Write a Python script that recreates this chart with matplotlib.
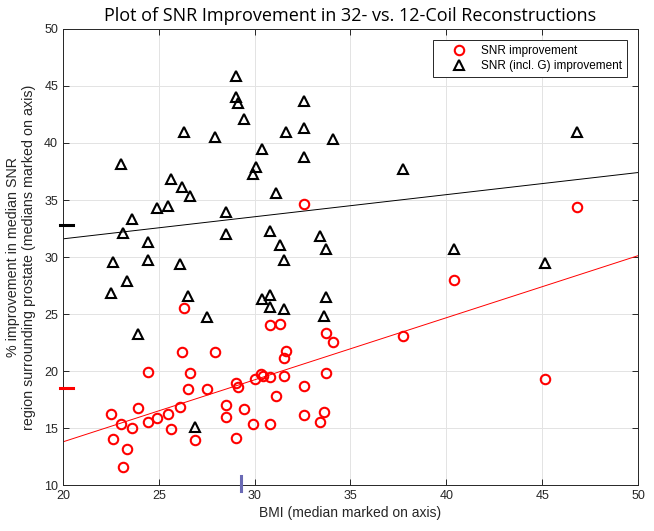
import numpy as np
import matplotlib
matplotlib.use("Agg")
import matplotlib.pyplot as plt

# BMI of each patient and SNR improvement (%) for the two measures
bmi_g = [29.05, 29.05, 29.15, 29.43, 26.30, 27.92, 32.60, 32.60, 31.61, 34.11,
         30.40, 32.60, 23.02, 30.05, 29.91, 25.61, 26.21, 26.61, 31.13, 24.91,
         25.50, 23.61, 28.52, 23.11, 28.52, 30.78, 31.30, 33.42, 33.70, 24.41,
         22.62, 24.41, 26.09, 31.51, 23.32, 22.50, 26.51, 30.40, 30.82, 30.82,
         31.51, 33.70, 33.61, 27.53, 23.91, 26.88, 46.84, 37.76, 40.42, 45.14]
snr_g = [45.90, 44.00, 43.54, 42.08, 40.94, 40.55, 43.71, 41.29, 40.94, 40.32,
         39.45, 38.77, 38.16, 37.89, 37.28, 36.87, 36.17, 35.35, 35.59, 34.27,
         34.47, 33.30, 33.98, 32.08, 31.99, 32.31, 31.05, 31.84, 30.67, 31.32,
         29.56, 29.74, 29.39, 29.74, 27.87, 26.82, 26.55, 26.29, 26.67, 25.59,
         25.47, 26.52, 24.82, 24.74, 23.22, 15.06, 40.99, 37.69, 30.70, 29.44]

bmi = [32.60, 26.30, 30.82, 31.30, 33.70, 34.11, 26.21, 27.92, 31.61, 31.51,
       24.41, 26.61, 30.35, 30.45, 30.02, 30.82, 31.51, 33.70, 29.03, 29.15,
       26.51, 27.53, 32.60, 31.13, 23.94, 26.09, 28.52, 29.43, 22.50, 25.50,
       24.91, 24.41, 23.02, 23.61, 28.52, 29.91, 30.82, 32.60, 33.61, 33.42,
       25.61, 22.60, 26.88, 29.03, 23.32, 23.11, 46.84, 40.42, 37.73, 45.14]
snr = [34.65, 25.53, 24.06, 24.12, 23.33, 22.57, 21.64, 21.69, 21.72, 21.11,
       19.94, 19.85, 19.75, 19.60, 19.30, 19.50, 19.56, 19.85, 18.92, 18.63,
       18.39, 18.42, 18.68, 17.81, 16.75, 16.81, 17.04, 16.69, 16.20, 16.26,
       15.88, 15.56, 15.32, 14.97, 15.99, 15.38, 15.32, 16.11, 16.43, 15.56,
       14.88, 14.04, 13.92, 14.09, 13.18, 11.58, 34.41, 27.96, 23.10, 19.27]

xticks = [20, 25, 30, 35, 40, 45, 50]
yticks = [10, 15, 20, 25, 30, 35, 40, 45, 50]

plt.rcParams["font.family"] = ["Liberation Sans", "DejaVu Sans"]
axcol = "#262626"

fig = plt.figure(figsize=(6.54, 5.31), dpi=100)
ax = fig.add_axes([0.0963, 0.0866, 0.8792, 0.8588])

ax.plot(bmi, snr, "o", ls="none", mfc="none", mec="red", mew=1.5, ms=6.8,
        label="SNR improvement", zorder=3)
ax.plot(bmi_g, snr_g, "^", ls="none", mfc="none", mec="black", mew=1.5, ms=7.2,
        label="SNR (incl. G) improvement", zorder=3)

# least squares fits
xx = np.array([20, 50])
p1 = np.polyfit(bmi, snr, 1)
p2 = np.polyfit(bmi_g, snr_g, 1)
ax.plot(xx, np.polyval(p1, xx), color="red", lw=0.7)
ax.plot(xx, np.polyval(p2, xx), color="black", lw=0.7)

# medians marked on the axes
ax.plot([19.85, 20.5], [np.median(snr)] * 2, color="red", lw=2.2, clip_on=False, zorder=4)
ax.plot([19.85, 20.5], [np.median(snr_g)] * 2, color="black", lw=2.2, clip_on=False, zorder=4)
ax.plot([np.median(bmi)] * 2, [9.45, 10.75], color="#6a6ab5", lw=2.2, clip_on=False, zorder=4)

ax.set_xlim(20, 50)
ax.set_ylim(10, 50)
ax.set_xticks(xticks)
ax.set_yticks(yticks)
ax.grid(True, color="#e3e3e3", lw=0.7)
ax.set_axisbelow(True)
ax.tick_params(direction="in", top=True, right=True, colors=axcol,
               labelsize=9, length=4, width=0.7)
for s in ax.spines.values():
    s.set_color(axcol)
    s.set_linewidth(0.7)

ax.set_xlabel("BMI (median marked on axis)", fontsize=10, color=axcol, labelpad=3)
ax.set_ylabel("% improvement in median SNR\nregion surrounding prostate (medians marked on axis)",
              fontsize=10.3, color=axcol, labelpad=6)
ax.set_title("Plot of SNR Improvement in 32- vs. 12-Coil Reconstructions",
             fontsize=13, family=["Open Sans", "DejaVu Sans"], pad=6)

leg = ax.legend(loc="upper right", fontsize=8.5, fancybox=False, framealpha=1,
                edgecolor=axcol, borderaxespad=0.9, handlelength=3.4,
                handletextpad=0.2, borderpad=0.45, labelspacing=0.25)
leg.get_frame().set_linewidth(0.7)

fig.savefig("out.png", dpi=100)
